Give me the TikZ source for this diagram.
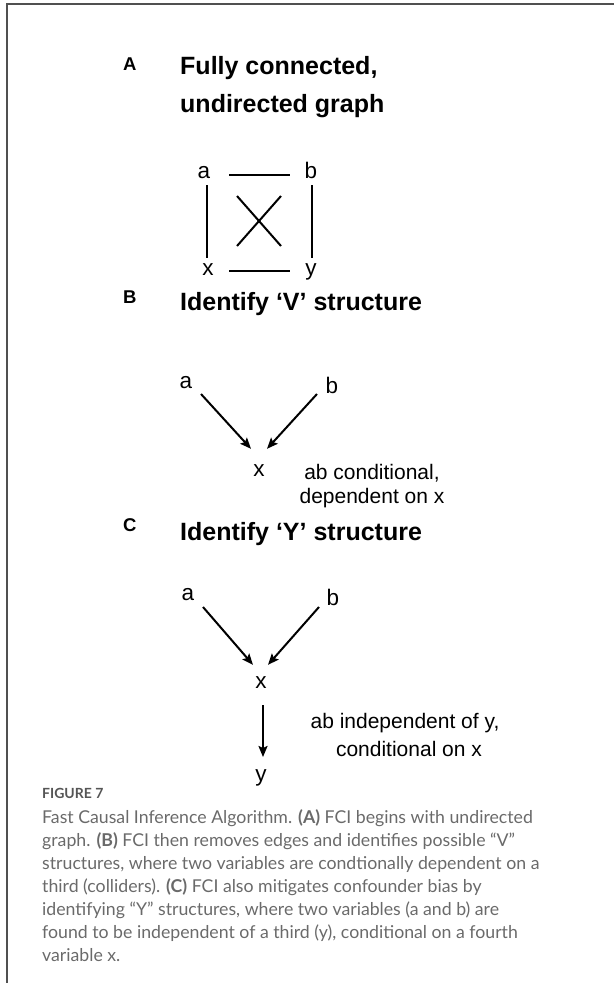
\documentclass[tikz,border=0pt]{standalone}
\usepackage{fontspec}
\setmainfont{Liberation Sans}
\newfontfamily\capfont{Lato}
\usetikzlibrary{arrows.meta,calc}
\definecolor{capgray}{HTML}{6A6A6A}
\definecolor{figgray}{HTML}{555555}
\definecolor{framegray}{HTML}{505050}
\begin{document}
\begin{tikzpicture}[x=1pt,y=-1pt,
  lbl/.style={inner sep=0pt, anchor=base, font=\fontsize{22.5}{22.5}\selectfont, text height=16pt, text depth=5pt},
  ttl/.style={inner sep=0pt, anchor=base west, font=\fontsize{25}{25}\selectfont\bfseries},
  panel/.style={inner sep=0pt, anchor=base west, font=\fontsize{18.5}{18.5}\selectfont\bfseries},
  note/.style={inner sep=0pt, anchor=base, font=\fontsize{21}{21}\selectfont},
  edge/.style={line width=2pt},
  arr/.style={line width=2pt, -{Stealth[length=11pt,width=9pt,inset=2pt]}},
  captxt/.style={inner sep=0pt, anchor=base west, font=\capfont\fontsize{17.7}{17.7}\selectfont, text=capgray},
  figlbl/.style={inner sep=0pt, anchor=base west, font=\capfont\bfseries\fontsize{14}{14}\selectfont, text=figgray},
]
\useasboundingbox (0,0) rectangle (614,983);
% frame
\draw[framegray, line width=1.5pt] (7,983) -- (7,4) -- (614,4);

% ---------------- Panel A
\node[panel] (pA) at (123,70) {A};
\node[ttl] (tA1) at (180,74) {Fully connected,};
\node[ttl] (tA2) at (180,112) {undirected graph};
\node[lbl] (Aa) at (204,178) {a};
\node[lbl] (Ab) at (311,178) {b};
\node[lbl] (Ax) at (208,275) {x};
\node[lbl] (Ay) at (311,275) {y};
\draw[edge] ($(Aa.base)+(25,-3)$) -- ($(Ab.base)+(-21,-3)$);
\draw[edge] ($(Ax.base)+(21,-4)$) -- ($(Ay.base)+(-21,-4)$);
\draw[edge] ($(Aa.base)+(3,7)$) -- ($(Ax.base)+(-1,-17)$);
\draw[edge] ($(Ab.base)+(1,7)$) -- ($(Ay.base)+(1,-17)$);
\coordinate (d1s) at (237,196);
\coordinate (d1e) at (281,246);
\coordinate (d2s) at (281,196);
\coordinate (d2e) at (237,246);
\draw[edge] (d1s) -- (d1e);
\draw[edge] (d2s) -- (d2e);

% ---------------- Panel B
\node[panel] (pB) at (123,303) {B};
\node[ttl] (tB) at (180,310) {Identify ‘V’ structure};
\node[lbl] (Ba) at (186,388) {a};
\node[lbl] (Bb) at (332,393) {b};
\node[lbl] (Bx) at (259,476) {x};
\draw[arr] ($(Ba.center)+(15,11.5)$) -- ($(Bx.north)+(-8,-11)$);
\draw[arr] ($(Bb.center)+(-15,6.5)$) -- ($(Bx.north)+(8,-11)$);
\node[note] (nB1) at (372,479) {ab conditional,};
\node[note] (nB2) at (372,503) {dependent on x};

% ---------------- Panel C
\node[panel] (pC) at (123,531) {C};
\node[ttl] (tC) at (180,540) {Identify ‘Y’ structure};
\node[lbl] (Ca) at (188,600) {a};
\node[lbl] (Cb) at (333,605) {b};
\node[lbl] (Cx) at (261,688) {x};
\node[lbl] (Cy) at (261,781) {y};
\draw[arr] ($(Ca.center)+(15,12.5)$) -- ($(Cx.north)+(-8,-7)$);
\draw[arr] ($(Cb.center)+(-14,7.5)$) -- ($(Cx.north)+(7,-7)$);
\draw[arr] ($(Cx.base)+(2,17)$) -- ($(Cy.base)+(2,-24)$);
\node[note] (nC1) at (405,728) {ab independent of y,};
\node[note] (nC2) at (409,756) {conditional on x};

% ---------------- Caption
\node[figlbl] (fig) at (42,798) {FIGURE 7};
\node[captxt] (c1) at (42,823) {Fast Causal Inference Algorithm. \textbf{(A)} FCI begins with undirected};
\node[captxt] (c2) at (42,846) {graph. \textbf{(B)} FCI then removes edges and identifies possible “V”};
\node[captxt] (c3) at (42,869) {structures, where two variables are condtionally dependent on a};
\node[captxt] (c4) at (42,892) {third (colliders). \textbf{(C)} FCI also mitigates confounder bias by};
\node[captxt] (c5) at (42,915) {identifying “Y” structures, where two variables (a and b) are};
\node[captxt] (c6) at (42,938) {found to be independent of a third (y), conditional on a fourth};
\node[captxt] (c7) at (42,961) {variable x.};
\end{tikzpicture}
\end{document}
